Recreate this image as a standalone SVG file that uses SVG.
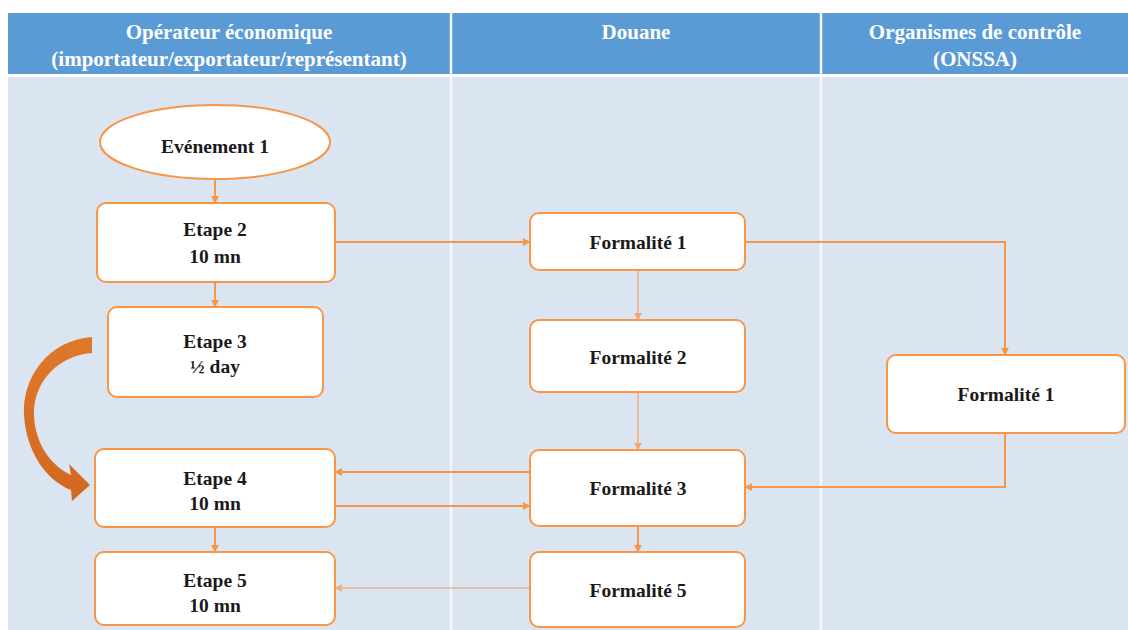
<svg xmlns="http://www.w3.org/2000/svg" width="1128" height="630" viewBox="0 0 1128 630">
<defs>
<style>
.hdr{fill:#5b9bd5}
.hdrtxt{font-family:'Liberation Serif','DejaVu Serif',serif;font-weight:bold;font-size:21px;fill:#ffffff;text-anchor:middle}
.node{fill:#ffffff;stroke:#f79646;stroke-width:2}
.txt{font-family:'Liberation Serif','DejaVu Serif',serif;font-weight:bold;font-size:19.5px;fill:#1a1a1a;text-anchor:middle}
.con{fill:none;stroke:#f79646;stroke-width:2}
.thin{fill:none;stroke:#f4a46c;stroke-width:1.3}
.div{stroke:#f4f8fc;stroke-width:2.5}
</style>
<marker id="ah" viewBox="0 0 10 10" refX="9" refY="5" markerWidth="4" markerHeight="4" orient="auto-start-reverse" markerUnits="strokeWidth">
<path d="M0,0 L10,5 L0,10 Z" fill="#f79646"/>
</marker>
<marker id="ahs" viewBox="0 0 10 10" refX="9" refY="5" markerWidth="6" markerHeight="6" orient="auto-start-reverse" markerUnits="strokeWidth">
<path d="M0,0 L10,5 L0,10 Z" fill="#f4a46c"/>
</marker>
<linearGradient id="curveg" x1="0" y1="0" x2="0" y2="1">
<stop offset="0" stop-color="#e0782c"/>
<stop offset="1" stop-color="#d2681e"/>
</linearGradient>
</defs>
<rect x="0" y="0" width="1128" height="630" fill="#ffffff"/>
<g id="background">
<rect x="8" y="77" width="1120" height="553" fill="#dbe5f1"/>
<rect class="hdr" x="8" y="13" width="1120" height="61"/>
<line class="div" x1="451" y1="13" x2="451" y2="630"/>
<line class="div" x1="821" y1="13" x2="821" y2="630"/>
</g>
<g id="headers" font-family="Liberation Serif, DejaVu Serif, serif">
<text class="hdrtxt" x="229" y="39">Opérateur économique</text>
<text class="hdrtxt" x="229" y="66">(importateur/exportateur/représentant)</text>
<text class="hdrtxt" x="636" y="39">Douane</text>
<text class="hdrtxt" x="975" y="39">Organismes de contrôle</text>
<text class="hdrtxt" x="975" y="66">(ONSSA)</text>
</g>
<g id="connectors">
<path class="con" d="M215,180 V203" marker-end="url(#ah)"/>
<path class="con" d="M215,282 V307" marker-end="url(#ah)"/>
<path class="con" d="M335,242 H530" marker-end="url(#ah)"/>
<path class="con" d="M745,242 H1005 V355" marker-end="url(#ah)"/>
<path class="thin" d="M638,270 V320" marker-end="url(#ahs)"/>
<path class="thin" d="M638,392 V450" marker-end="url(#ahs)"/>
<path class="con" d="M1005,433 V487 H745" marker-end="url(#ah)"/>
<path class="con" d="M530,472 H335" marker-end="url(#ah)"/>
<path class="con" d="M335,506 H530" marker-end="url(#ah)"/>
<path class="con" d="M215,527 V552" marker-end="url(#ah)"/>
<path class="con" d="M638,526 V552" marker-end="url(#ah)"/>
<path class="thin" d="M530,588 H335" marker-end="url(#ahs)" opacity="0.8"/>
<path id="curved-arrow" d="M92,337 C48,340 22,378 24,415 C26,450 45,480 71,490 L72,501 L90,485 L69,464 L71,475 C50,465 35,443 34,415 C33,385 55,356 92,353 Z" fill="url(#curveg)"/>
</g>
<g id="evenement1">
<ellipse class="node" cx="215" cy="142" rx="115" ry="37"/>
<text class="txt" x="215" y="153">Evénement 1</text>
</g>
<g id="etape2">
<rect class="node" x="97" y="203" width="238" height="79" rx="9"/>
<text class="txt" x="215" y="236">Etape 2</text>
<text class="txt" x="215" y="263">10 mn</text>
</g>
<g id="etape3">
<rect class="node" x="108" y="307" width="215" height="90" rx="9"/>
<text class="txt" x="215" y="348">Etape 3</text>
<text class="txt" x="215" y="373">½ day</text>
</g>
<g id="etape4">
<rect class="node" x="95" y="449" width="240" height="78" rx="9"/>
<text class="txt" x="215" y="485">Etape 4</text>
<text class="txt" x="215" y="510">10 mn</text>
</g>
<g id="etape5">
<rect class="node" x="95" y="552" width="240" height="73" rx="9"/>
<text class="txt" x="215" y="587">Etape 5</text>
<text class="txt" x="215" y="612">10 mn</text>
</g>
<g id="douane-formalite1">
<rect class="node" x="530" y="213" width="215" height="57" rx="9"/>
<text class="txt" x="638" y="249">Formalité 1</text>
</g>
<g id="douane-formalite2">
<rect class="node" x="530" y="320" width="215" height="72" rx="9"/>
<text class="txt" x="638" y="364">Formalité 2</text>
</g>
<g id="douane-formalite3">
<rect class="node" x="530" y="450" width="215" height="76" rx="9"/>
<text class="txt" x="638" y="495">Formalité 3</text>
</g>
<g id="douane-formalite5">
<rect class="node" x="530" y="552" width="215" height="75" rx="9"/>
<text class="txt" x="638" y="597">Formalité 5</text>
</g>
<g id="onssa-formalite1">
<rect class="node" x="887" y="355" width="238" height="78" rx="9"/>
<text class="txt" x="1006" y="401">Formalité 1</text>
</g>
</svg>
